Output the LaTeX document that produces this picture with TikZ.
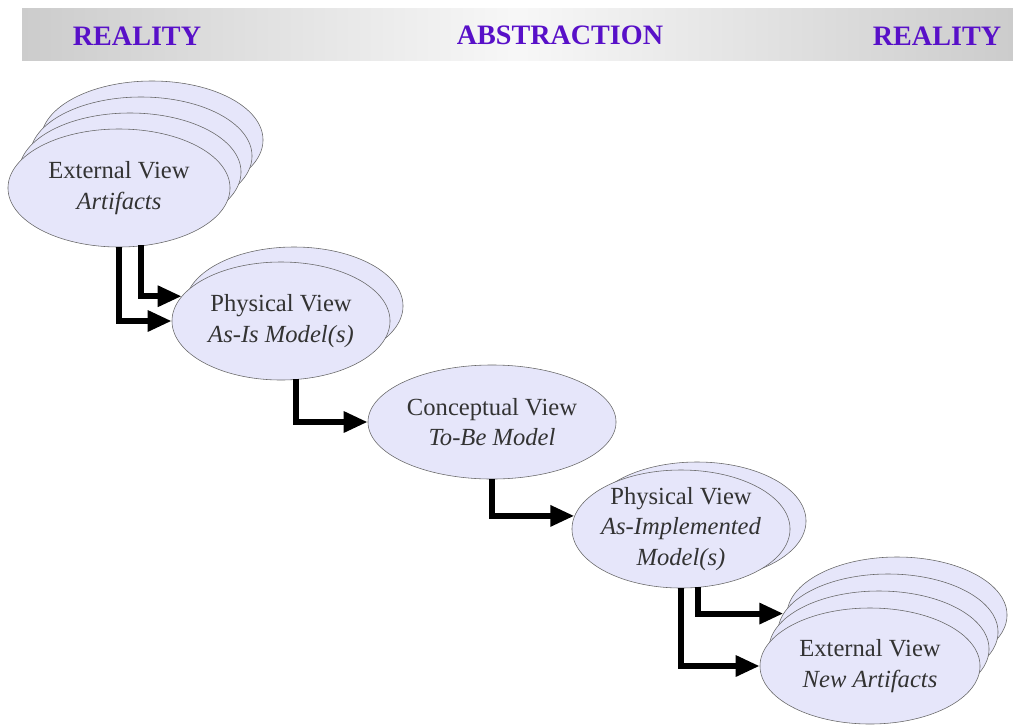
\documentclass[tikz,border=0pt]{standalone}
\usepackage{fontspec}
\setmainfont{Liberation Serif}
\usetikzlibrary{arrows.meta, positioning, shapes.geometric, calc}

\definecolor{viewfill}{RGB}{230,230,250}
\definecolor{headblue}{RGB}{88,16,200}

\tikzset{
  view/.style={ellipse, draw=black!60, fill=viewfill, inner sep=0pt, text=black!80,
    align=center, font=\fontsize{17.5}{21.5}\selectfont},
  flow/.style={line width=4.2pt, -{Triangle[length=0.6cm,width=0.5cm]}},
  head/.style={text=headblue, font=\fontsize{20}{24}\selectfont\bfseries},
}

\begin{document}
\begin{tikzpicture}[x=0.025cm, y=-0.025cm]
  \useasboundingbox (0,0) rectangle (1013,725);

  % --- Header bar ---
  \shade[left color=gray!40, right color=gray!40, middle color=gray!6] (22,8) rectangle (1013,60);
  \node[head] (real-l) at (137,36) {REALITY};
  \node[head] (abstr)  at (560,35) {ABSTRACTION};
  \node[head] (real-r) at (937,36) {REALITY};

  % --- Views ---
  % external view (stack of 4)
  \coordinate (ext-c) at (119,188);
  \foreach \i in {3,2,1}
    \node[view, minimum width=5.55cm, minimum height=2.95cm] (ext-\i) at ($(ext-c)+(11*\i,-16*\i)$) {};
  \node[view, minimum width=5.55cm, minimum height=2.95cm] (ext) at (ext-c) {External View\\\textit{Artifacts}};

  % physical view, as-is (stack of 2)
  \coordinate (phys-c) at (281,321);
  \node[view, minimum width=5.45cm, minimum height=2.95cm] (phys-1) at ($(phys-c)+(13,-15)$) {};
  \node[view, minimum width=5.45cm, minimum height=2.95cm] (phys) at (phys-c) {Physical View\\\textit{As-Is Model(s)}};

  % conceptual view
  \node[view, minimum width=6.2cm, minimum height=2.85cm] (concept) at (492,422) {Conceptual View\\\textit{To-Be Model}};

  % physical view, as-implemented (stack of 2)
  \coordinate (impl-c) at (681,529);
  \node[view, minimum width=5.45cm, minimum height=2.95cm] (impl-1) at ($(impl-c)+(16,-8)$) {};
  \node[view, minimum width=5.45cm, minimum height=2.95cm, inner xsep=-0.3cm] (impl) at (impl-c)
    {Physical View\\\textit{As-Implemented}\\\textit{Model(s)}};

  % external view, new (stack of 4)
  \coordinate (new-c) at (870,666);
  \foreach \i in {3,2,1}
    \node[view, minimum width=5.5cm, minimum height=2.9cm] (new-\i) at ($(new-c)+(9*\i,-17*\i)$) {};
  \node[view, minimum width=5.5cm, minimum height=2.9cm] (new) at (new-c) {External View\\\textit{New Artifacts}};

  % --- Flows ---
  \draw[flow] (ext.south) |- (phys.west);
  \draw[flow] ($(ext.south)+(22,-2)$) |- (phys.166);
  \draw[flow] ($(phys.south)+(15,-1)$) |- (concept.west);
  \draw[flow] (concept.south) |- (impl.173);
  \draw[flow] (impl.south) |- (new.west);
  \draw[flow] ($(impl.south)+(17,-1)$) |- (new-2.170);

\end{tikzpicture}
\end{document}
